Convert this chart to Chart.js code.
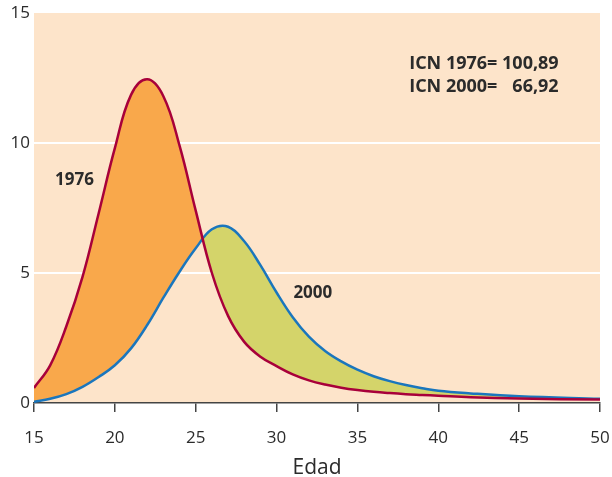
<!DOCTYPE html>
<html>
<head>
<meta charset="utf-8">
<script src="https://cdn.jsdelivr.net/npm/chart.js@4"></script>
<style>
  html, body { margin: 0; padding: 0; background: #fff; }
  #wrap { width: 612px; height: 477px; position: relative; }
</style>
</head>
<body>
<div id="wrap"><canvas id="chart"></canvas></div>
<script>
  // Edad (años) y tasas por edad
  const ages = [15, 16, 17, 18, 19, 20, 21, 22, 23, 24, 25, 26, 27, 28, 29, 30,
    31, 32, 33, 34, 35, 36, 37, 38, 39, 40, 42, 45, 50];
  const values1976 = [0.58, 1.45, 2.95, 4.85, 7.3, 9.8, 11.85, 12.45, 11.8, 9.9, 7.4, 5.0, 3.35, 2.35, 1.78, 1.42,
    1.1, 0.87, 0.71, 0.59, 0.5, 0.43, 0.38, 0.34, 0.31, 0.28, 0.22, 0.17, 0.13];
  const values2000 = [0.05, 0.16, 0.34, 0.62, 1.0, 1.45, 2.1, 3.0, 4.05, 5.05, 5.95, 6.68, 6.78, 6.22, 5.3, 4.25,
    3.3, 2.55, 2.0, 1.6, 1.28, 1.03, 0.84, 0.69, 0.57, 0.47, 0.37, 0.26, 0.16];
  const xTicks = [15, 20, 25, 30, 35, 40, 45, 50];
  const yTicks = [0, 5, 10, 15];
  const seriesLabels = ['1976', '2000'];
  const icnLines = [['ICN 1976=', '100,89'], ['ICN 2000=', '66,92']];

  const colors = {
    bg: '#fde4ca',
    red: '#a8003a',
    blue: '#1a76bd',
    orange: '#f9a84b',
    green: '#d4d46a',
    text: '#2b2b2b',
    axis: '#444444',
  };
  const FONT = "'Open Sans', 'Noto Sans', sans-serif";

  const toPoints = (vals) => ages.map((a, i) => ({ x: a, y: vals[i] }));

  // fondo del área de trazado
  const areaBg = {
    id: 'areaBg',
    beforeDraw(chart) {
      const { ctx, chartArea: a } = chart;
      ctx.save();
      ctx.fillStyle = colors.bg;
      ctx.fillRect(a.left, a.top, a.right - a.left, a.bottom - a.top);
      ctx.restore();
    },
  };

  // etiquetas de texto sobre el gráfico
  const labels = {
    id: 'labels',
    afterDraw(chart) {
      const { ctx } = chart;
      const x = chart.scales.x, y = chart.scales.y;
      ctx.save();
      ctx.fillStyle = colors.text;
      ctx.font = 'bold 17px ' + FONT;
      ctx.textBaseline = 'alphabetic';
      ctx.textAlign = 'left';
      ctx.fillText(seriesLabels[0], x.getPixelForValue(16.3), y.getPixelForValue(8.38));
      ctx.fillText(seriesLabels[1], x.getPixelForValue(31.04), y.getPixelForValue(4.05));

      // ICN: primera línea completa, segunda alineada a la derecha con ella
      ctx.font = 'bold 18px ' + FONT;
      const left = x.getPixelForValue(38.2);
      const rows = [12.85, 11.97];
      const first = icnLines[0][0] + ' ' + icnLines[0][1];
      const right = left + ctx.measureText(first).width;
      icnLines.forEach((ln, i) => {
        const py = y.getPixelForValue(rows[i]);
        ctx.textAlign = 'left';
        ctx.fillText(ln[0], left, py);
        ctx.textAlign = 'right';
        ctx.fillText(ln[1], right, py);
      });
      ctx.restore();
    },
  };

  new Chart(document.getElementById('chart'), {
    type: 'line',
    data: {
      datasets: [
        {
          label: seriesLabels[0],
          data: toPoints(values1976),
          borderColor: colors.red,
          borderWidth: 2.5,
          pointRadius: 0,
          tension: 0.4,
          fill: { target: 1, above: colors.orange, below: colors.green },
        },
        {
          label: seriesLabels[1],
          data: toPoints(values2000),
          borderColor: colors.blue,
          borderWidth: 2.5,
          pointRadius: 0,
          tension: 0.4,
          fill: false,
        },
      ],
    },
    options: {
      responsive: true,
      maintainAspectRatio: false,
      animation: false,
      layout: { padding: { left: 0, right: 12, top: 13, bottom: 0 } },
      plugins: {
        legend: { display: false },
        tooltip: { enabled: false },
        filler: { drawTime: 'beforeDatasetsDraw' },
      },
      scales: {
        x: {
          type: 'linear',
          min: 15,
          max: 50,
          afterBuildTicks: (s) => { s.ticks = xTicks.map(v => ({ value: v })); },
          afterFit: (s) => { s.height = 74; s.paddingLeft = 0; s.paddingRight = 0; },
          border: { display: true, color: colors.axis, width: 1.5 },
          grid: { drawOnChartArea: false, drawTicks: true, tickLength: 9, color: colors.axis, lineWidth: 1.5 },
          ticks: { color: colors.text, font: { family: FONT, size: 17 }, padding: 16, maxRotation: 0 },
          title: {
            display: true,
            text: 'Edad',
            color: colors.text,
            font: { family: FONT, size: 21 },
            padding: { top: 0, bottom: -4 },
          },
        },
        y: {
          min: 0,
          max: 15,
          afterBuildTicks: (s) => { s.ticks = yTicks.map(v => ({ value: v })); },
          afterFit: (s) => { s.width = 34; s.paddingTop = 0; s.paddingBottom = 0; },
          border: { display: false },
          grid: {
            drawTicks: false,
            lineWidth: 2,
            color: (c) => (c.tick && (c.tick.value === 5 || c.tick.value === 10)) ? '#ffffff' : 'rgba(0,0,0,0)',
          },
          ticks: { color: colors.text, font: { family: FONT, size: 17 }, padding: 4 },
        },
      },
    },
    plugins: [areaBg, labels],
  });
</script>
</body>
</html>
